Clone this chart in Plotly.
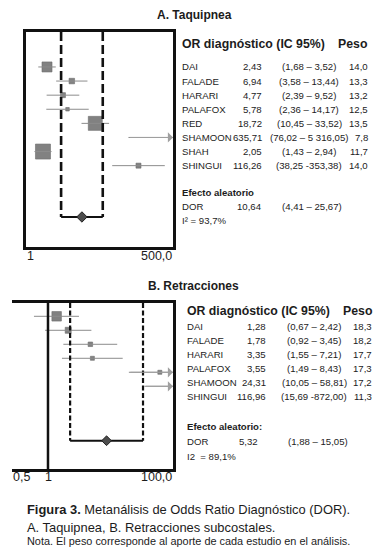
import math
import plotly.graph_objects as go

W, H = 387, 557
FONT = "Liberation Sans, Arial, sans-serif"

# ---------------- data ----------------
a_title = "A. Taquipnea"
a_studies = ["DAI", "FALADE", "HARARI", "PALAFOX", "RED", "SHAMOON", "SHAH", "SHINGUI"]
a_or = [2.43, 6.94, 4.77, 5.78, 18.72, 635.71, 2.05, 116.26]
a_lo = [1.68, 3.58, 2.39, 2.36, 10.45, 76.02, 1.43, 38.25]
a_hi = [3.52, 13.44, 9.52, 14.17, 33.52, 5316.05, 2.94, 353.38]
a_peso = [14.0, 13.3, 13.2, 12.5, 13.5, 7.8, 11.7, 14.0]
a_pool = 10.64
a_pool_lo = 4.41
a_pool_hi = 25.67
a_i2 = 93.7
a_tick_labels = ["1", "500,0"]

b_title = "B. Retracciones"
b_studies = ["DAI", "FALADE", "HARARI", "PALAFOX", "SHAMOON", "SHINGUI"]
b_or = [1.28, 1.78, 3.35, 3.55, 24.31, 116.96]
b_lo = [0.67, 0.92, 1.55, 1.49, 10.05, 15.69]
b_hi = [2.42, 3.45, 7.21, 8.43, 58.81, 872.00]
b_peso = [18.3, 18.2, 17.7, 17.3, 17.2, 11.3]
b_pool = 5.32
b_pool_lo = 1.88
b_pool_hi = 15.05
b_i2 = 89.1
b_tick_labels = ["0,5", "1", "100,0"]

# ---------------- styles ----------------
a_sizes = [10, 5.5, 5, 3.5, 14, 5, 15, 5]
b_sizes = [9.5, 6, 4.5, 4, 4, 4]
a_ci_sep = [" – "] * 7 + [" -"]
b_ci_sep = [" – "] * 5 + [" -"]
SQ = "#4d4d4d"
CI = "#8c8c8c"
ARROW = "#a0a0a0"
TXT = "#1c1c1c"
ROW_FS = 9.6


def fmt(v, d=2):
    s = f"{v:,.{d}f}"
    return s.replace(",", " ").replace(".", ",")


fig = go.Figure()
ann = []


def text(x, y, t, size=ROW_FS, anchor="left", bold=False, color=TXT):
    if bold:
        t = f"<b>{t}</b>"
    ann.append(dict(x=x / W, y=1 - y / H, xref="paper", yref="paper", text=t,
                    showarrow=False, xanchor=anchor, yanchor="middle",
                    borderpad=0, font=dict(size=size, family=FONT, color=color)))


def panel(xa, ya, ors, los, his, sizes, pool, plo, phi, pool_row, yr, xr, dash, dash_w, dia):
    ymax_top = yr[1]
    rows = list(range(len(ors)))
    # study squares
    fig.add_trace(go.Scatter(x=ors, y=rows, mode="markers", xaxis=xa, yaxis=ya,
                             marker=dict(symbol="square", size=sizes, color=SQ,
                                         line=dict(color="#2e2e2e", width=0.6)),
                             cliponaxis=True, showlegend=False, hoverinfo="skip"))
    # confidence intervals
    xs, ys = [], []
    for i in rows:
        xs += [los[i], his[i], None]
        ys += [i, i, None]
    fig.add_trace(go.Scatter(x=xs, y=ys, mode="lines", xaxis=xa, yaxis=ya,
                             line=dict(color=CI, width=1), showlegend=False, hoverinfo="skip"))
    # arrows where the interval runs past the right edge
    for i in rows:
        if his[i] > 10 ** xr[1]:
            ann.append(dict(x=xr[1], y=i, xref=xa, yref=ya, ax=math.log10(los[i]), ay=i,
                            axref=xa, ayref=ya, showarrow=True, arrowhead=1,
                            arrowsize=1.7, arrowwidth=1, arrowcolor=ARROW, text=""))
    # pooled interval: dashed verticals + base line + diamond
    fig.add_trace(go.Scatter(x=[plo, plo, None, phi, phi],
                             y=[ymax_top, pool_row, None, ymax_top, pool_row],
                             mode="lines", xaxis=xa, yaxis=ya,
                             line=dict(color="#111", width=dash_w, dash=dash),
                             showlegend=False, hoverinfo="skip"))
    fig.add_trace(go.Scatter(x=[plo, phi], y=[pool_row, pool_row], mode="lines",
                             xaxis=xa, yaxis=ya, line=dict(color="#111", width=2),
                             showlegend=False, hoverinfo="skip"))
    fig.add_trace(go.Scatter(x=[pool], y=[pool_row], mode="markers", xaxis=xa, yaxis=ya,
                             marker=dict(symbol="diamond", size=dia, color="#4d4d4d",
                                         line=dict(color="#222", width=1)),
                             showlegend=False, hoverinfo="skip"))


# Panel A
a_xr = [0, math.log10(500)]
a_yr = [12.77, -2.48]
a_pool_row = 10.64
panel("x", "y", a_or, a_lo, a_hi, a_sizes, a_pool, a_pool_lo, a_pool_hi, a_pool_row,
      a_yr, a_xr, "9px,4px", 2.6, 8)

# Panel B
b_xr = [-0.446, 1.549]
b_yr = [10.91, -0.95]
b_pool_row = 8.89
panel("x2", "y2", b_or, b_lo, b_hi, b_sizes, b_pool, b_pool_lo, b_pool_hi, b_pool_row,
      b_yr, b_xr, "5px,2.5px", 2.2, 7.5)
# left edge of panel B box, at value 1
fig.add_trace(go.Scatter(x=[1, 1], y=[b_yr[0], b_yr[1]], mode="lines", xaxis="x2", yaxis="y2",
                         line=dict(color="#111", width=2.5), showlegend=False,
                         hoverinfo="skip", cliponaxis=False))

ax_common = dict(showgrid=False, zeroline=False, showticklabels=False, ticks="",
                 showline=True, linecolor="#111", linewidth=2.6)

fig.update_layout(
    width=W, height=H, autosize=False,
    margin=dict(l=0, r=0, t=0, b=0),
    paper_bgcolor="white", plot_bgcolor="white",
    xaxis=dict(type="log", range=a_xr, domain=[26 / W, 173 / W], anchor="y", mirror=True, **ax_common),
    yaxis=dict(range=a_yr, domain=[1 - 247 / H, 1 - 32 / H], anchor="x", mirror=True, **ax_common),
    xaxis2=dict(type="log", range=b_xr, domain=[12 / W, 173 / W], anchor="y2", mirror=True, **ax_common),
    yaxis2=dict(range=b_yr, domain=[1 - 469 / H, 1 - 303 / H], anchor="x2", side="right",
                **ax_common),
)

# ---------------- texts ----------------
text(194, 15, a_title, size=12, anchor="center", bold=True)
text(181, 44, "OR diagnóstico (IC 95%)", size=12.3, bold=True)
text(369, 44, "Peso", size=12.3, anchor="right", bold=True)
for i, name in enumerate(a_studies):
    y = 67 + 14.1 * i
    text(181, y, name)
    text(263, y, fmt(a_or[i]), anchor="right")
    text(309, y, "(" + fmt(a_lo[i]) + a_ci_sep[i] + fmt(a_hi[i]) + ")", anchor="center")
    text(369, y, fmt(a_peso[i], 1), anchor="right")
text(181, 192, "Efecto aleatorio", size=9.6, bold=True)
text(181, 206, "DOR")
text(263, 206, fmt(a_pool), anchor="right")
text(312, 206, "(" + fmt(a_pool_lo) + " – " + fmt(a_pool_hi) + ")", anchor="center")
text(181, 220, "I² = " + fmt(a_i2, 1) + "%")
text(30, 256, a_tick_labels[0], size=12.5, anchor="center")
text(173, 256, a_tick_labels[1], size=12.5, anchor="right")

text(193, 286, b_title, size=12, anchor="center", bold=True)
text(186, 311, "OR diagnóstico (IC 95%)", size=12.3, bold=True)
text(374, 311, "Peso", size=12.3, anchor="right", bold=True)
for i, name in enumerate(b_studies):
    y = 326.7 + 14.0 * i
    text(186, y, name)
    text(267, y, fmt(b_or[i]), anchor="right")
    text(314, y, "(" + fmt(b_lo[i]) + b_ci_sep[i] + fmt(b_hi[i]) + ")", anchor="center")
    text(373, y, fmt(b_peso[i], 1), anchor="right")
text(186, 426, "Efecto aleatorio:", size=9.6, bold=True)
text(186, 441, "DOR")
text(259, 441, fmt(b_pool), anchor="right")
text(318, 441, "(" + fmt(b_pool_lo) + " – " + fmt(b_pool_hi) + ")", anchor="center")
text(186, 456, "I2  = " + fmt(b_i2, 1) + "%")
text(12, 477, b_tick_labels[0], size=12.5, anchor="left")
text(48, 477, b_tick_labels[1], size=12.5, anchor="center")
text(173, 477, b_tick_labels[2], size=12.5, anchor="right")

# caption
text(26, 509, "<b>Figura 3.</b> Metanálisis de Odds Ratio Diagnóstico (DOR).", size=12.9)
text(26, 527, "A. Taquipnea, B. Retracciones subcostales.", size=12.9)
text(26, 541, "Nota. El peso corresponde al aporte de cada estudio en el análisis.", size=10.9)

fig.update_layout(annotations=ann)
fig.write_html("out.html", config={"displayModeBar": False},
               post_script="document.body.style.margin='0';")
